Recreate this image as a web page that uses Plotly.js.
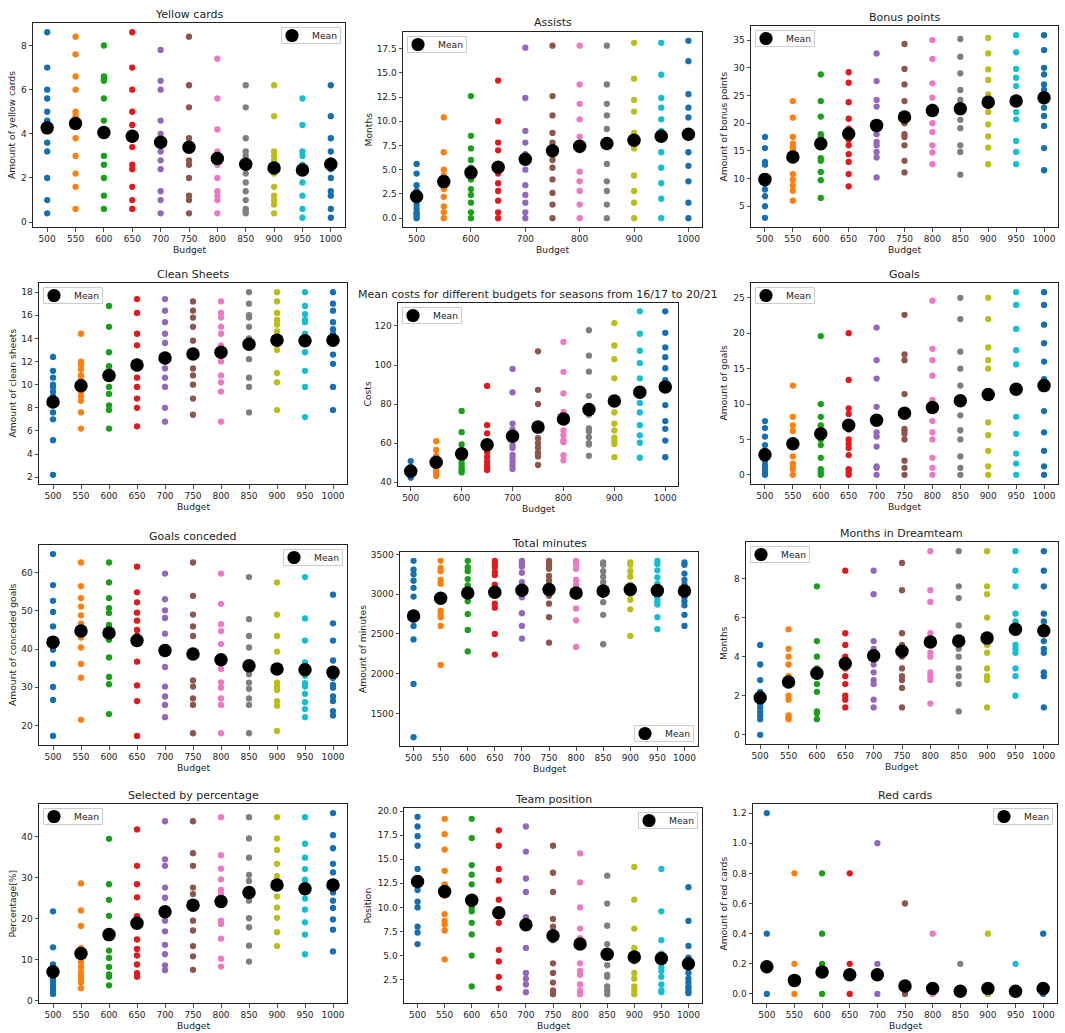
<!DOCTYPE html>
<html>
<head>
<meta charset="utf-8">
<script src="https://cdn.plot.ly/plotly-3.0.1.min.js"></script>
<style>html,body{margin:0;padding:0;background:#fff;}#chart{width:1065px;height:1033px;}</style>
</head>
<body>
<div id="chart"></div>
<script>
const budgets = [500,550,600,650,700,750,800,850,900,950,1000];
const budgetColors = ['#1570b3','#ff7f0e','#19a019','#e3191e','#9467bd','#8c564b','#ee78c4','#7f7f7f','#bcbd16','#13bfd2','#1570b3'];

const yellowVals = [[8.6,7.0,6.0,5.6,5.0,4.6,4.4,3.6,3.2,2.0,1.0,0.4],[8.4,7.6,6.6,6.0,5.0,4.8,4.6,3.8,3.0,2.2,1.6,0.6],[8.0,6.6,6.5,6.4,5.6,4.6,3.0,2.6,2.0,1.2,0.6],[8.6,7.0,6.0,5.0,4.4,3.4,2.6,2.4,1.6,1.0,0.6],[7.8,6.4,6.0,4.6,4.0,3.2,2.8,2.4,1.4,1.0,0.4],[8.4,6.2,5.2,3.8,2.8,2.6,2.0,1.2,1.0,0.4],[7.4,5.6,4.2,3.2,2.6,2.0,1.4,1.2,1.0,0.4],[6.2,5.2,3.8,3.2,3.0,2.8,2.2,1.8,1.4,1.0,0.6,0.5,0.4],[6.2,4.8,3.2,3.0,2.8,2.2,1.6,1.2,1.0,0.8,0.4],[5.6,4.4,3.2,3.0,2.6,1.8,1.2,0.6,0.2],[6.2,4.8,3.8,3.2,2.8,2.4,2.0,1.4,1.2,0.6,0.2]];
const yellowMean = [4.27,4.47,4.06,3.89,3.62,3.39,2.88,2.62,2.45,2.36,2.62];

const assistsVals = [[5.6,4.6,3.4,2.8,1.8,1.4,1.0,0.6,0.4,0.2,0],[10.4,6.8,5.0,4.4,4.0,3.0,2.2,1.2,0.6,0],[12.6,8.5,7.2,6.0,5.2,4.0,3.0,2.4,1.6,0.6,0],[14.2,10.0,7.8,7.0,5.4,4.6,3.6,2.8,1.8,0.6,0],[17.6,12.4,9.0,7.8,6.6,5.0,3.4,2.4,1.6,0.6,0],[17.8,12.6,10.6,8.8,7.8,6.0,5.2,4.0,2.6,1.4,0],[17.8,13.8,11.8,10.2,8.4,7.0,4.8,3.8,2.8,1.4,0],[17.8,13.8,11.8,10.6,9.2,8.0,5.6,3.8,2.8,1.4,0],[18.1,14.4,12.2,11.0,8.8,7.2,4.4,2.8,1.6,0],[18.1,14.8,12.4,11.4,10.2,9.0,6.8,5.2,3.6,2.0,0],[18.3,16.2,12.8,11.4,10.4,6.8,5.4,3.8,1.6,0]];
const assistsMean = [2.23,3.77,4.7,5.25,6.07,6.95,7.42,7.7,8.05,8.45,8.65];

const bonusVals = [[17.5,15.5,13.0,12.5,10.0,9.0,8.0,6.8,5.0,2.9],[24.0,21.0,17.5,16.3,15.6,15.0,10.8,9.8,8.8,7.8,6.0],[28.8,24.0,21.2,18.0,17.5,13.7,13.2,11.2,9.7,6.5],[29.2,27.3,23.8,20.8,19.0,17.0,16.0,14.4,13.0,10.8,8.6],[32.6,27.6,24.2,23.0,20.0,18.0,16.6,16.0,14.8,13.8,10.2],[34.3,29.8,27.0,24.0,20.0,18.0,17.5,16.0,13.2,11.1],[35.0,31.6,27.2,24.6,23.0,20.0,18.4,16.0,14.7,12.6],[35.2,32.0,29.0,26.0,24.2,20.6,19.1,16.0,14.8,10.7],[35.4,32.6,29.7,27.8,25.2,22.0,19.8,17.6,15.6,12.6],[35.9,32.8,29.8,28.2,26.7,22.0,20.7,16.8,14.8,12.6],[35.9,33.2,30.0,28.8,27.0,26.0,22.8,21.3,19.5,15.5,11.5]];
const bonusMean = [9.85,13.9,16.3,18.1,19.6,21.1,22.3,22.6,23.8,24.0,24.6];

const cleanVals = [[12.4,11.2,10.6,10.0,9.8,9.4,9.0,8.4,7.6,7.0,5.2,2.2],[14.4,12.0,11.7,11.3,10.8,10.4,9.4,9.0,8.6,7.6,6.2],[16.8,15.0,12.8,11.6,11.2,10.6,9.8,9.2,8.2,7.8,6.2],[17.4,16.2,14.4,13.4,12.0,11.4,10.6,9.8,8.8,8.0,6.4],[17.4,16.4,15.4,14.4,13.6,12.0,11.4,10.6,9.8,8.0,6.8],[17.2,16.4,15.8,15.0,13.8,12.4,11.4,10.8,10.0,8.8,7.4],[17.2,16.2,15.8,15.0,14.4,13.4,12.0,10.8,10.2,9.4,6.8],[18.0,17.0,16.0,15.8,15.0,14.0,12.2,10.6,9.8,7.6],[18.0,17.2,16.2,15.6,15.2,14.6,13.0,11.0,10.2,7.8],[18.0,16.8,16.1,15.6,15.4,14.4,12.8,11.2,9.8,7.2],[18.0,17.0,16.4,15.4,14.8,14.4,12.6,11.8,9.8,7.8]];
const cleanMean = [8.5,9.9,10.8,11.7,12.3,12.65,12.8,13.5,13.85,13.8,13.85];

const costVals = [[50.8,48.0,46.5,45.0,44.0,43.0,42.3],[61.0,56.5,53.5,52.0,49.0,47.5,46.3,45.0,43.8,43.2],[76.5,65.6,59.3,56.0,52.0,50.0,48.5,47.0,46.0,45.0],[89.3,69.2,65.0,57.5,55.5,53.0,50.5,48.5,47.2,46.2],[98.0,86.0,70.0,67.0,59.0,57.5,54.0,52.5,50.5,48.5,46.8],[107.0,87.3,80.0,62.5,60.0,57.8,55.3,54.0,53.2,48.8],[111.8,96.5,85.5,76.0,74.5,66.5,64.0,61.5,60.5,53.8,51.2],[117.8,104.8,96.6,84.2,74.5,67.5,66.0,63.0,60.0,59.3,53.5],[121.5,110.0,103.0,93.2,75.7,70.0,66.5,62.8,61.0,59.5,52.8],[127.5,116.0,107.3,101.0,93.2,80.6,75.7,69.2,64.0,60.2,52.5],[127.5,116.5,109.0,104.0,98.4,92.3,79.5,71.3,67.3,61.3,52.8]];
const costMean = [45.6,50.2,54.5,59.2,63.5,68.2,72.4,77.2,81.6,86.0,88.8];

const goalsVals = [[7.6,6.6,5.4,4.2,3.4,2.6,2.0,1.4,1.0,0.6,0.2,0],[12.6,8.2,7.0,6.2,4.0,2.6,1.6,1.2,0.8,0],[19.6,10.0,8.2,7.0,5.0,4.2,2.4,0.8,0.4,0],[20.0,13.4,9.4,8.6,6.4,5.0,4.4,3.8,2.8,0.8,0.4,0],[20.8,16.2,13.6,9.6,6.0,5.4,4.0,1.2,1.0,0],[22.6,17.0,16.2,11.4,6.5,6.2,5.8,5.0,2.0,1.0,0],[24.6,17.8,16.2,14.0,10.6,7.6,6.0,5.0,2.4,1.0,0],[25.0,22.0,17.4,15.0,12.6,8.4,6.3,5.0,2.6,1.0,0],[25.0,22.0,18.0,16.2,15.0,7.4,5.6,3.4,1.2,0],[25.8,24.0,20.6,17.6,15.6,8.2,5.8,3.0,1.6,0],[25.8,24.0,21.2,18.6,16.0,13.5,9.0,6.0,3.4,1.2,0]];
const goalsMean = [2.84,4.4,5.8,7.0,7.7,8.7,9.5,10.45,11.35,12.1,12.6];

const concededVals = [[64.8,56.7,52.6,49.7,45.9,41.5,39.8,36.1,30.1,26.7,17.3],[62.6,56.4,53.3,51.1,48.8,46.6,45.5,43.0,40.4,36.1,32.5,21.5],[62.6,57.4,53.3,50.7,49.4,46.3,44.0,42.4,37.8,32.7,30.8,23.0],[61.5,54.8,52.2,49.5,47.4,45.0,43.5,36.7,30.5,26.4,17.3],[59.7,53.0,50.1,48.1,44.0,40.5,35.3,30.2,27.6,25.4,22.2],[62.6,53.9,49.0,45.9,43.4,38.5,31.8,30.2,27.1,25.4,18.0],[59.7,51.8,46.5,44.7,41.3,34.8,31.3,29.9,27.1,25.4,18.0],[58.8,47.8,43.4,40.4,36.0,33.4,31.2,29.6,27.1,25.4,18.0],[57.4,49.0,43.4,39.3,31.2,30.2,29.3,26.4,25.2,18.6],[58.8,48.0,42.2,36.5,35.4,33.0,31.1,30.2,28.3,26.1,24.3,22.2],[54.2,46.7,42.2,37.0,32.4,30.6,29.9,27.6,26.4,23.8,22.6]];
const concededMean = [41.8,44.7,44.2,42.2,39.6,38.7,37.2,35.6,34.8,34.6,33.9];

const minutesVals = [[3420,3310,3250,3170,3080,2970,2600,2430,1870,1200],[3420,3330,3290,3180,3130,2790,2750,2710,2600,2110],[3420,3340,3290,3190,3110,3050,2910,2750,2550,2280],[3420,3380,3340,3280,3240,3120,3000,2880,2830,2500,2240],[3420,3380,3350,3270,3150,3050,2960,2760,2600,2440],[3420,3390,3360,3320,3230,3170,3110,2980,2880,2710,2390],[3420,3380,3320,3180,3120,3050,2970,2820,2670,2335],[3400,3370,3290,3220,3150,3090,2990,2900,2740,2370],[3400,3370,3290,3220,3120,3040,3000,2930,2810,2475],[3420,3380,3300,3210,3130,3000,2950,2910,2870,2710,2560],[3400,3370,3260,3180,3120,3020,2960,2910,2860,2740,2600]];
const minutesMean = [2725,2950,3015,3025,3050,3060,3015,3040,3060,3045,3040];

const dreamVals = [[4.6,3.6,2.8,2.2,1.6,1.4,1.2,1.0,0.8,0],[5.4,4.4,4.0,3.6,3.0,2.0,1.8,1.0,0.9,0.8],[7.6,4.8,4.0,3.4,2.6,2.2,1.2,1.1,0.8],[8.4,5.2,4.6,4.0,3.4,3.0,2.6,2.0,1.8,1.4],[8.4,7.2,4.8,4.4,3.6,3.2,2.8,2.6,1.8,1.4],[8.8,7.4,5.2,4.6,4.0,3.4,3.0,2.8,2.4,1.4],[9.4,7.4,6.8,5.2,4.2,4.0,3.2,3.0,2.8,1.6],[9.4,7.6,7.0,5.6,4.6,4.4,4.0,3.4,3.0,2.6,1.2],[9.4,7.6,7.2,6.0,4.6,4.2,3.4,3.0,2.8,1.4],[9.4,8.4,7.6,6.2,5.8,4.6,4.4,4.2,3.4,3.0,2.0],[9.4,8.4,7.6,6.2,5.8,4.8,4.4,4.2,3.2,3.0,1.4]];
const dreamMean = [1.9,2.7,3.15,3.65,4.05,4.28,4.75,4.8,4.95,5.4,5.33];

const selectedVals = [[21.8,13.0,8.8,8.0,6.0,5.2,4.4,3.6,2.8,2.2,1.6],[28.6,22.0,18.2,12.8,9.4,8.2,7.0,6.2,5.2,4.4,3.0],[39.5,28.4,24.6,20.7,12.2,10.4,8.2,6.4,5.8,3.7],[41.8,32.9,28.4,25.2,20.6,14.9,12.6,11.0,8.8,6.7,5.8],[43.8,34.5,32.9,27.6,25.1,19.5,16.9,13.6,11.3,8.6,7.4],[43.8,36.0,32.9,27.6,26.0,19.5,17.1,13.3,10.8,7.5],[44.8,35.5,32.2,29.6,27.0,26.0,19.5,18.7,15.1,10.2,8.3],[44.8,39.6,34.9,30.7,29.2,24.4,20.1,17.9,13.4,9.5],[44.8,39.6,36.8,33.4,30.4,25.4,22.7,20.2,16.7,13.3],[44.8,38.3,34.9,32.1,29.5,24.9,22.2,19.1,16.1,11.3],[45.8,40.4,37.2,33.4,31.3,26.4,24.4,22.6,19.8,17.3,12.0]];
const selectedMean = [7.0,11.5,16.1,18.9,21.7,23.3,24.2,26.4,28.2,27.3,28.2];

const positionVals = [[19.4,18.4,17.4,16.4,14.0,11.8,10.6,10.0,8.0,7.4,6.2],[19.2,17.6,16.0,13.8,12.4,11.2,9.3,8.6,8.2,7.6,4.6],[19.2,17.2,14.4,13.4,12.4,10.0,9.6,8.4,7.2,5.0,1.8],[18.0,16.4,14.0,12.8,10.8,8.4,5.6,4.4,2.8,1.6],[18.4,15.8,13.0,11.6,9.0,5.8,3.2,2.6,2.0,1.2],[16.4,13.6,11.6,8.8,8.0,6.6,4.2,3.2,2.2,1.4,1.0],[15.6,12.6,10.0,7.8,6.8,4.2,3.4,3.0,2.0,1.4,1.0],[13.3,10.4,8.1,6.2,4.0,3.0,2.8,1.8,1.4,1.0],[14.2,10.8,7.8,5.8,4.4,3.2,2.6,1.8,1.4,1.0],[14.0,9.6,6.6,5.2,3.8,3.4,2.8,2.0,1.4,1.2],[12.1,8.6,6.0,4.8,3.2,2.6,2.2,1.8,1.6,1.3,1.1]];
const positionMean = [12.7,11.65,10.75,9.45,8.2,7.05,6.2,5.15,4.85,4.7,4.15];

const redVals = [[1.2,0.4,0],[0.8,0.2,0],[0.8,0.4,0.2,0],[0.8,0.2,0],[1.0,0.2,0],[0.6,0],[0.4,0],[0.2,0],[0.4,0],[0.2,0],[0.4,0]];
const redMean = [0.18,0.09,0.145,0.127,0.127,0.053,0.036,0.018,0.036,0.018,0.036];

const panelTitles = ['Yellow cards','Assists','Bonus points','Clean Sheets','Mean costs for different budgets for seasons from 16/17 to 20/21','Goals','Goals conceded','Total minutes','Months in Dreamteam','Selected by percentage','Team position','Red cards'];
const yLabels = ['Amount of yellow cards','Months','Amount of bonus points','Amount of clean sheets','Costs','Amount of goals','Amount of conceded goals','Amount of minutes','Months','Percentage[%]','Position','Amount of red cards'];
const xLabel = 'Budget';
const legendName = 'Mean';
const panelVals = [yellowVals,assistsVals,bonusVals,cleanVals,costVals,goalsVals,concededVals,minutesVals,dreamVals,selectedVals,positionVals,redVals];
const panelMeans = [yellowMean,assistsMean,bonusMean,cleanMean,costMean,goalsMean,concededMean,minutesMean,dreamMean,selectedMean,positionMean,redMean];

// axis / layout configuration (pixels)
const boxes = [[33,345,23,227],[403,702,32,227],[751,1058,26,227],[39,347,283,484],[398,678,303,486],[751,1058,283,484],[39,347,545,745],[400,698,552,746],[746,1058,542,744],[39,347,804,1003],[404,702,808,1003],[753,1057,804,1003]];
const yTick = [[0,2,''],[0,2.5,'.1f'],[5,5,''],[2,2,''],[40,20,''],[0,5,''],[20,10,''],[1500,500,'d'],[0,2,''],[0,10,''],[2.5,2.5,'.1f'],[0,0.2,'.1f']];
const xDtick = [50,100,50,50,100,50,50,50,50,50,50,50];
const yLabelOff = [21,35,28,27,31,28,27,38,23,27,37,30];
const legendPos = ['ur','ul','ul','ul','ul','ul','ur','lr','ul','ul','ur','ur'];

const W = 1065, H = 1033;
const txt = '#1e1e1e';
const data = [];
const layout = {
  width: W, height: H, margin: {l:0,r:0,t:0,b:0},
  paper_bgcolor: '#fff', plot_bgcolor: '#fff',
  font: {family: 'DejaVu Sans, sans-serif', size: 9, color: txt},
  showlegend: false, annotations: [], shapes: []
};
const px = v => v / W, py = v => 1 - v / H;

panelVals.forEach((vals, k) => {
  const n = k + 1, sfx = n === 1 ? '' : String(n);
  const xa = 'x' + sfx, ya = 'y' + sfx;
  const [L, R, T, B] = boxes[k];
  let lo = Infinity, hi = -Infinity;
  vals.forEach((vs, i) => {
    vs.forEach(v => { lo = Math.min(lo, v); hi = Math.max(hi, v); });
    data.push({type:'scatter', mode:'markers', x: vs.map(() => budgets[i]), y: vs,
      xaxis: xa, yaxis: ya, marker: {color: budgetColors[i], size: 6.3, line:{width:0}},
      showlegend: false, hoverinfo: 'skip'});
  });
  panelMeans[k].forEach(v => { lo = Math.min(lo, v); hi = Math.max(hi, v); });
  data.push({type:'scatter', mode:'markers', name: legendName, x: budgets, y: panelMeans[k],
    xaxis: xa, yaxis: ya, marker: {color: '#000', size: 13.5, line:{width:0}}, showlegend: false});
  const pad = (hi - lo) * 0.05;
  const axCommon = {showline: true, mirror: true, linecolor: '#222', linewidth: 1,
    ticks: 'outside', ticklen: 3.5, tickwidth: 0.8, tickcolor: '#222',
    showgrid: false, zeroline: false, tickfont: {size: 9, color: txt}, fixedrange: true};
  layout['xaxis' + sfx] = Object.assign({}, axCommon, {domain: [L / W, R / W], anchor: ya,
    range: [475, 1025], tickmode: 'linear', tick0: 500, dtick: xDtick[k]});
  layout['yaxis' + sfx] = Object.assign({}, axCommon, {domain: [1 - B / H, 1 - T / H], anchor: xa,
    range: [lo - pad, hi + pad], tickmode: 'linear', tick0: yTick[k][0], dtick: yTick[k][1], tickformat: yTick[k][2]});

  // legend box (matplotlib style)
  const lp = legendPos[k], gap = 4.5, lw = 59, lh = 16;
  const lx = lp.includes('r') ? R - gap - lw : L + gap;
  const ly = lp.includes('u') ? T + gap : B - gap - lh;
  layout.shapes.push({type:'rect', xref:'paper', yref:'paper', x0: px(lx), x1: px(lx + lw), y0: py(ly), y1: py(ly + lh),
    line: {color: '#cccccc', width: 1}, fillcolor: 'rgba(255,255,255,0.85)', layer: 'above'});
  const cx = lx + 10.5, cy = ly + lh / 2, r = 6.6;
  layout.shapes.push({type:'circle', xref:'paper', yref:'paper', x0: px(cx - r), x1: px(cx + r), y0: py(cy - r), y1: py(cy + r),
    line: {width: 0}, fillcolor: '#000', layer: 'above'});
  layout.annotations.push({xref:'paper', yref:'paper', x: px(lx + 28), y: py(cy), text: legendName, showarrow: false,
    xanchor: 'left', yanchor: 'middle', font: {size: 9.2, color: txt}});

  layout.annotations.push({xref:'paper', yref:'paper', x: (L + R) / 2 / W, y: 1 - (T - 9) / H,
    text: panelTitles[k], showarrow: false, xanchor: 'center', yanchor: 'middle', font: {size: 11, color: txt}});
  layout.annotations.push({xref:'paper', yref:'paper', x: (L + R) / 2 / W, y: 1 - (B + 22.5) / H,
    text: xLabel, showarrow: false, xanchor: 'center', yanchor: 'middle', font: {size: 9.2, color: txt}});
  layout.annotations.push({xref:'paper', yref:'paper', x: (L - yLabelOff[k]) / W, y: 1 - (T + B) / 2 / H,
    text: yLabels[k], showarrow: false, textangle: -90, xanchor: 'center', yanchor: 'middle', font: {size: 9.2, color: txt}});
});

Plotly.newPlot('chart', data, layout, {staticPlot: true, displayModeBar: false});
</script>
</body>
</html>
